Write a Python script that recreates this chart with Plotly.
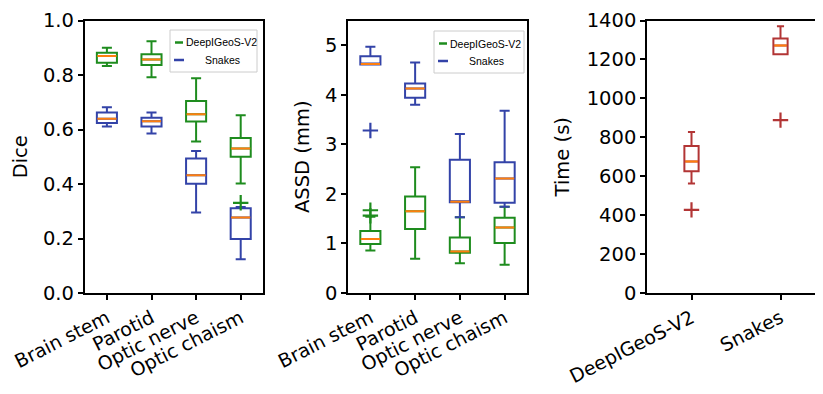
import plotly.graph_objects as go

# the page body has an 8px default margin; the figure is sized to fill the rest
OFF = 8
W, H = 823 - OFF, 394 - OFF

# ---------------- data ----------------
organs = ["Brain stem", "Parotid", "Optic nerve", "Optic chaism"]
methods = ["DeepIGeoS-V2", "Snakes"]

# Dice
dice_deep_low = [0.833, 0.792, 0.556, 0.402]
dice_deep_q1 = [0.845, 0.837, 0.629, 0.500]
dice_deep_med = [0.870, 0.857, 0.656, 0.530]
dice_deep_q3 = [0.882, 0.876, 0.705, 0.569]
dice_deep_high = [0.900, 0.924, 0.788, 0.652]
dice_deep_out_x = [4]
dice_deep_out_y = [0.331]

dice_snk_low = [0.611, 0.585, 0.295, 0.124]
dice_snk_q1 = [0.624, 0.611, 0.401, 0.198]
dice_snk_med = [0.639, 0.630, 0.432, 0.277]
dice_snk_q3 = [0.662, 0.643, 0.494, 0.311]
dice_snk_high = [0.682, 0.662, 0.521, 0.316]
dice_snk_out_x = []
dice_snk_out_y = []

# ASSD (mm)
assd_deep_low = [0.86, 0.69, 0.60, 0.57]
assd_deep_q1 = [0.99, 1.29, 0.81, 1.01]
assd_deep_med = [1.09, 1.65, 0.84, 1.32]
assd_deep_q3 = [1.25, 1.95, 1.12, 1.52]
assd_deep_high = [1.54, 2.54, 1.53, 1.74]
assd_deep_out_x = [1, 1]
assd_deep_out_y = [1.67, 1.56]

assd_snk_low = [4.61, 3.80, 1.53, 1.74]
assd_snk_q1 = [4.61, 3.94, 1.83, 1.82]
assd_snk_med = [4.62, 4.13, 1.84, 2.31]
assd_snk_q3 = [4.78, 4.23, 2.69, 2.64]
assd_snk_high = [4.97, 4.65, 3.21, 3.68]
assd_snk_out_x = [1]
assd_snk_out_y = [3.28]

# Time (s)
time_low = [563, 1227]
time_q1 = [625, 1227]
time_med = [675, 1272]
time_q3 = [755, 1307]
time_high = [827, 1370]
time_out_x = [1, 2]
time_out_y = [427, 888]

# ---------------- styles ----------------
GREEN = "#1e8c1e"
BLUE = "#3343a8"
RED = "#b23535"
ORANGE = "#ff7f0e"
FONT = "DejaVu Sans"
FS = 19.5
FSX = 19


def px_x(x):
    return (x - OFF) / W


def px_y(y):
    return 1 - (y - OFF) / H


fig = go.Figure()


def add_boxes(xs, low, q1, med, q3, high, outx, outy, color, xa, ya, width):
    fig.add_trace(go.Box(
        x=xs, lowerfence=low, q1=q1, median=med, q3=q3, upperfence=high,
        width=width, whiskerwidth=0.5, boxpoints=False,
        line=dict(color=color, width=2), fillcolor="rgba(0,0,0,0)",
        xaxis=xa, yaxis=ya, showlegend=False, hoverinfo="skip"))
    # orange medians
    mx, my = [], []
    for x, m in zip(xs, med):
        mx += [x - width / 2 + 0.01, x + width / 2 - 0.01, None]
        my += [m, m, None]
    fig.add_trace(go.Scatter(x=mx, y=my, mode="lines",
                             line=dict(color=ORANGE, width=2),
                             xaxis=xa, yaxis=ya, showlegend=False, hoverinfo="skip"))
    if outx:
        fig.add_trace(go.Scatter(x=outx, y=outy, mode="markers",
                                 marker=dict(symbol="cross-thin", size=11,
                                             line=dict(color=color, width=2.2)),
                                 xaxis=xa, yaxis=ya, showlegend=False, hoverinfo="skip"))


pos4 = [1, 2, 3, 4]
add_boxes(pos4, dice_deep_low, dice_deep_q1, dice_deep_med, dice_deep_q3, dice_deep_high,
          dice_deep_out_x, dice_deep_out_y, GREEN, "x", "y", 0.45)
add_boxes(pos4, dice_snk_low, dice_snk_q1, dice_snk_med, dice_snk_q3, dice_snk_high,
          dice_snk_out_x, dice_snk_out_y, BLUE, "x", "y", 0.45)
add_boxes(pos4, assd_deep_low, assd_deep_q1, assd_deep_med, assd_deep_q3, assd_deep_high,
          assd_deep_out_x, assd_deep_out_y, GREEN, "x2", "y2", 0.45)
add_boxes(pos4, assd_snk_low, assd_snk_q1, assd_snk_med, assd_snk_q3, assd_snk_high,
          assd_snk_out_x, assd_snk_out_y, BLUE, "x2", "y2", 0.45)
add_boxes([1, 2], time_low, time_q1, time_med, time_q3, time_high,
          time_out_x, time_out_y, RED, "x3", "y3", 0.16)

TOP = 20.5
ydom = [px_y(293), px_y(TOP)]
axis_common = dict(showline=True, linecolor="black", linewidth=1.5,
                   ticks="outside", ticklen=5, tickwidth=1.5, tickcolor="black",
                   showgrid=False, zeroline=False, automargin=False,
                   ticklabeloverflow="allow")
yfont = dict(tickfont=dict(family=FONT, size=FS, color="black"))
xfont = dict(tickfont=dict(family=FONT, size=FSX, color="black"))

fig.update_layout(
    width=W, height=H, margin=dict(l=0, r=0, t=0, b=0),
    plot_bgcolor="white", paper_bgcolor="white", boxmode="overlay",
    showlegend=False,
    xaxis=dict(domain=[px_x(84.6), px_x(263)], range=[0.5, 4.5], anchor="y",
               tickvals=pos4, ticktext=organs, tickangle=-27, mirror=True,
               **axis_common, **xfont),
    yaxis=dict(domain=ydom, range=[0, 1.0], anchor="x", tickvals=[0, 0.2, 0.4, 0.6, 0.8, 1.0],
               tickformat=".1f", mirror=True,
               title=dict(text="Dice", font=dict(family=FONT, size=FS, color="black"), standoff=10),
               **axis_common, **yfont),
    xaxis2=dict(domain=[px_x(348), px_x(527)], range=[0.5, 4.5], anchor="y2",
                tickvals=pos4, ticktext=organs, tickangle=-27, mirror=True,
                **axis_common, **xfont),
    yaxis2=dict(domain=ydom, range=[0, 5.5], anchor="x2", tickvals=[0, 1, 2, 3, 4, 5], mirror=True,
                title=dict(text="ASSD (mm)", font=dict(family=FONT, size=FS, color="black"), standoff=10),
                **axis_common, **yfont),
    xaxis3=dict(domain=[px_x(647), 1.0], range=[0.5, 2.5 - 2 * (825 - 823) / 178], anchor="y3",
                tickvals=[1, 2], ticktext=methods, tickangle=-27, mirror=True,
                **axis_common, **xfont),
    yaxis3=dict(domain=ydom, range=[0, 1400], anchor="x3", tickvals=list(range(0, 1401, 200)),
                mirror=False,
                title=dict(text="Time (s)", font=dict(family=FONT, size=FS, color="black"), standoff=12),
                **axis_common, **yfont),
)


# custom legends (matching the reference's compact style)
def add_legend(x0, y0, x1, y1):
    fig.add_shape(type="rect", xref="paper", yref="paper",
                  x0=px_x(x0), x1=px_x(x1), y0=px_y(y1), y1=px_y(y0),
                  line=dict(color="#cccccc", width=1), fillcolor="rgba(255,255,255,0.8)")
    rows = [(methods[0], GREEN, y0 + 12.5, x0 + 5, x0 + 13, x0 + 14),
            (methods[1], BLUE, y0 + 30, x0 + 4, x0 + 14, x0 + 33)]
    for name, col, yy, hx0, hx1, tx in rows:
        fig.add_shape(type="line", xref="paper", yref="paper",
                      x0=px_x(hx0), x1=px_x(hx1), y0=px_y(yy), y1=px_y(yy),
                      line=dict(color=col, width=2.5))
        fig.add_annotation(x=px_x(tx), y=px_y(yy), xref="paper", yref="paper",
                           text=name, showarrow=False, xanchor="left", yanchor="middle",
                           font=dict(family="Liberation Sans", size=10.5, color="black"))


add_legend(170, 30, 257, 72)
add_legend(434, 31, 524, 73)

fig.write_html("out.html")
